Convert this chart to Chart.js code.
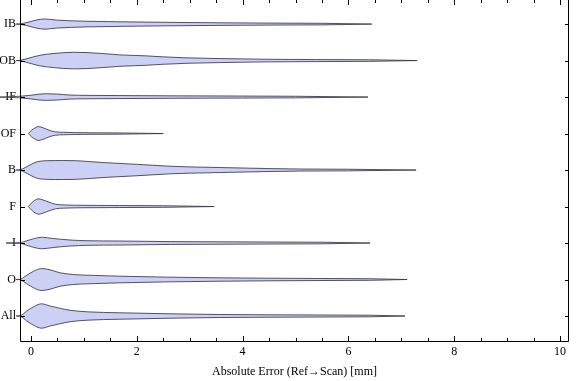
<!DOCTYPE html>
<html><head><meta charset="utf-8">
<script src="https://cdn.jsdelivr.net/npm/chart.js@4"></script>
<style>html,body{margin:0;padding:0;background:#fff;}#wrap{width:576px;height:381px;position:relative;}canvas{display:block;}</style>
</head><body><div id="wrap"><canvas id="c" width="576" height="381"></canvas></div>
<script>
// ---- data ----
const categories = ['All','O','I','F','B','OF','IF','OB','IB'];
const xTickValues = [0,2,4,6,8,10];
const xTickLabels = ['0','2','4','6','8','10'];
const axisTitle = 'Absolute Error (Ref\u2192Scan) [mm]';

// sample positions (mm) and violin half-width (relative density) per category
const allX = [-0.28,-0.21,-0.08,0.05,0.2,0.36,0.55,0.74,1.06,1.68,2.63,3.57,4.5,5.5,6.4,7.07];
const allD = [0,0.2,5,9.3,12.2,10,7.7,5.7,4.2,3.2,2.2,1.5,1.2,1.0,0.8,0];
const oX = [-0.28,-0.21,-0.08,0.05,0.2,0.36,0.55,0.8,1.06,1.68,2.63,3.57,4.5,5.5,6.4,7.11];
const oD = [0,0.2,4.3,8.3,11,9.7,6.7,5,4.3,3.3,2.3,1.7,1.3,1.0,0.8,0];
const iX = [-0.47,-0.21,-0.08,0.05,0.2,0.42,0.74,1.06,1.68,2.63,3.57,4.5,5.5,6.41];
const iD = [0,0.3,2.3,4.3,5.8,4.5,3,2.3,2.0,1.4,1.2,1.0,0.8,0];
const fX = [-0.05,0.01,0.08,0.14,0.23,0.36,0.46,0.62,1.06,1.68,2.5,3.46];
const fD = [0,3.5,6.5,7.7,6.5,4,2.3,1.6,1.2,1.0,0.8,0];
const bX = [-0.28,-0.21,-0.11,-0.02,0.1,0.29,0.6,0.86,1.36,2.0,2.63,2.95,3.57,4.46,5.1,6.0,7.28];
const bD = [0,0.2,2.5,5,8,9.3,9.5,9.3,7.5,5.7,3.8,3.2,2.5,1.5,1.0,0.8,0];
const ofX = [-0.05,0.01,0.08,0.14,0.23,0.36,0.46,0.62,1.06,1.68,2.5];
const ofD = [0,3.3,5.7,7,5.7,3,1.7,1.2,0.8,0.6,0];
const ifX = [-0.586,-0.21,-0.02,0.17,0.29,0.48,0.74,1.06,1.68,2.8,4.0,5.0,6.37];
const ifD = [0,0.8,1.7,3,3.3,3,2,1.7,1.5,1.2,1.0,0.8,0];
const obX = [-0.28,-0.21,-0.02,0.17,0.42,0.8,1.06,1.36,1.68,2.18,2.5,2.95,3.57,4.46,5.4,6.4,7.3];
const obD = [0,0.2,2.7,5.3,7,8.3,8,7,5.7,4.7,3.7,2.7,2.0,1.3,1.0,0.8,0];
const ibX = [-0.28,-0.21,-0.02,0.1,0.26,0.48,0.74,1.06,1.68,2.63,3.57,4.5,5.5,6.44];
const ibD = [0,0.2,2.3,4,5.1,4,3.3,2.8,2.3,1.7,1.3,1.0,0.8,0];

const violins = [[allX,allD],[oX,oD],[iX,iD],[fX,fD],[bX,bD],[ofX,ofD],[ifX,ifD],[obX,obD],[ibX,ibD]];

// ---- style ----
const WIDTH_SCALE = 1/36.5;
const FILL = 'rgb(204,208,245)';
const EDGE = 'rgba(55,55,70,0.85)';
const FONT = 'Liberation Serif';
const X_MIN = -0.208, X_MAX = 10.17;

const datasets = [];
violins.forEach(([xs, ds], i) => {
  const c = i + 1;
  const common = {borderColor: EDGE, borderWidth: 1, pointRadius: 0, pointHoverRadius: 0,
    cubicInterpolationMode: 'monotone', clip: false};
  datasets.push(Object.assign({label: categories[i] + ' upper', fill: false,
    data: xs.map((x, k) => ({x: x, y: c + ds[k] * WIDTH_SCALE}))}, common));
  datasets.push(Object.assign({label: categories[i] + ' lower', fill: '-1', backgroundColor: FILL,
    data: xs.map((x, k) => ({x: x, y: c - ds[k] * WIDTH_SCALE}))}, common));
});

const framePlugin = {
  id: 'frame',
  afterDraw(chart) {
    const {ctx, chartArea: a, scales: {x, y}} = chart;
    ctx.save();
    ctx.strokeStyle = '#000';
    ctx.lineWidth = 1;
    ctx.beginPath();
    ctx.moveTo(a.left + 0.5, a.top); ctx.lineTo(a.left + 0.5, a.bottom + 0.5);
    ctx.lineTo(a.right - 0.5, a.bottom + 0.5); ctx.lineTo(a.right - 0.5, a.top);
    ctx.stroke();
    ctx.beginPath();
    for (let v = 0; v <= 10.001; v += 0.5) {
      const px = Math.round(x.getPixelForValue(v)) + 0.5;
      const len = (Math.abs(v % 2) < 1e-6) ? 5 : 3;
      ctx.moveTo(px, a.bottom); ctx.lineTo(px, a.bottom - len);
      ctx.moveTo(px, a.top); ctx.lineTo(px, a.top + len);
    }
    categories.forEach((_, i) => {
      const py = Math.round(y.getPixelForValue(i + 1)) + 0.5;
      ctx.moveTo(a.left, py); ctx.lineTo(a.left + 5, py);
      ctx.moveTo(a.right, py); ctx.lineTo(a.right - 4, py);
    });
    ctx.stroke();
    ctx.restore();
  }
};

new Chart(document.getElementById('c'), {
  type: 'line',
  data: {datasets},
  plugins: [framePlugin],
  options: {
    responsive: false,
    animation: false,
    devicePixelRatio: 1,
    layout: {padding: {left: 0, right: 7, top: 0, bottom: 0}},
    plugins: {legend: {display: false}, tooltip: {enabled: false}},
    events: [],
    scales: {
      x: {
        type: 'linear', bounds: 'data',
        afterDataLimits: s => { s.min = X_MIN; s.max = X_MAX; },
        afterBuildTicks: s => { s.ticks = xTickValues.map(v => ({value: v})); s.min = X_MIN; s.max = X_MAX; },
        afterFit: s => { s.height = 40; s.paddingLeft = 0; s.paddingRight = 0; },
        ticks: {callback: (v, i) => xTickLabels[i], font: {family: FONT, size: 12}, color: '#000',
          padding: 4, maxRotation: 0, autoSkip: false},
        grid: {display: false, drawTicks: false},
        border: {display: false},
        title: {display: true, text: axisTitle, font: {family: FONT, size: 12}, color: '#000',
          padding: {top: 2, bottom: 2}}
      },
      y: {
        type: 'linear', min: 0.315, max: 9.66,
        afterBuildTicks: s => { s.ticks = categories.map((_, i) => ({value: i + 1})); },
        afterFit: s => { s.width = 20; s.paddingTop = 0; s.paddingBottom = 0; },
        ticks: {callback: (v, i) => categories[i], font: {family: FONT, size: 12}, color: '#000',
          padding: 4, autoSkip: false},
        grid: {display: false, drawTicks: false},
        border: {display: false}
      }
    }
  }
});
</script></body></html>
